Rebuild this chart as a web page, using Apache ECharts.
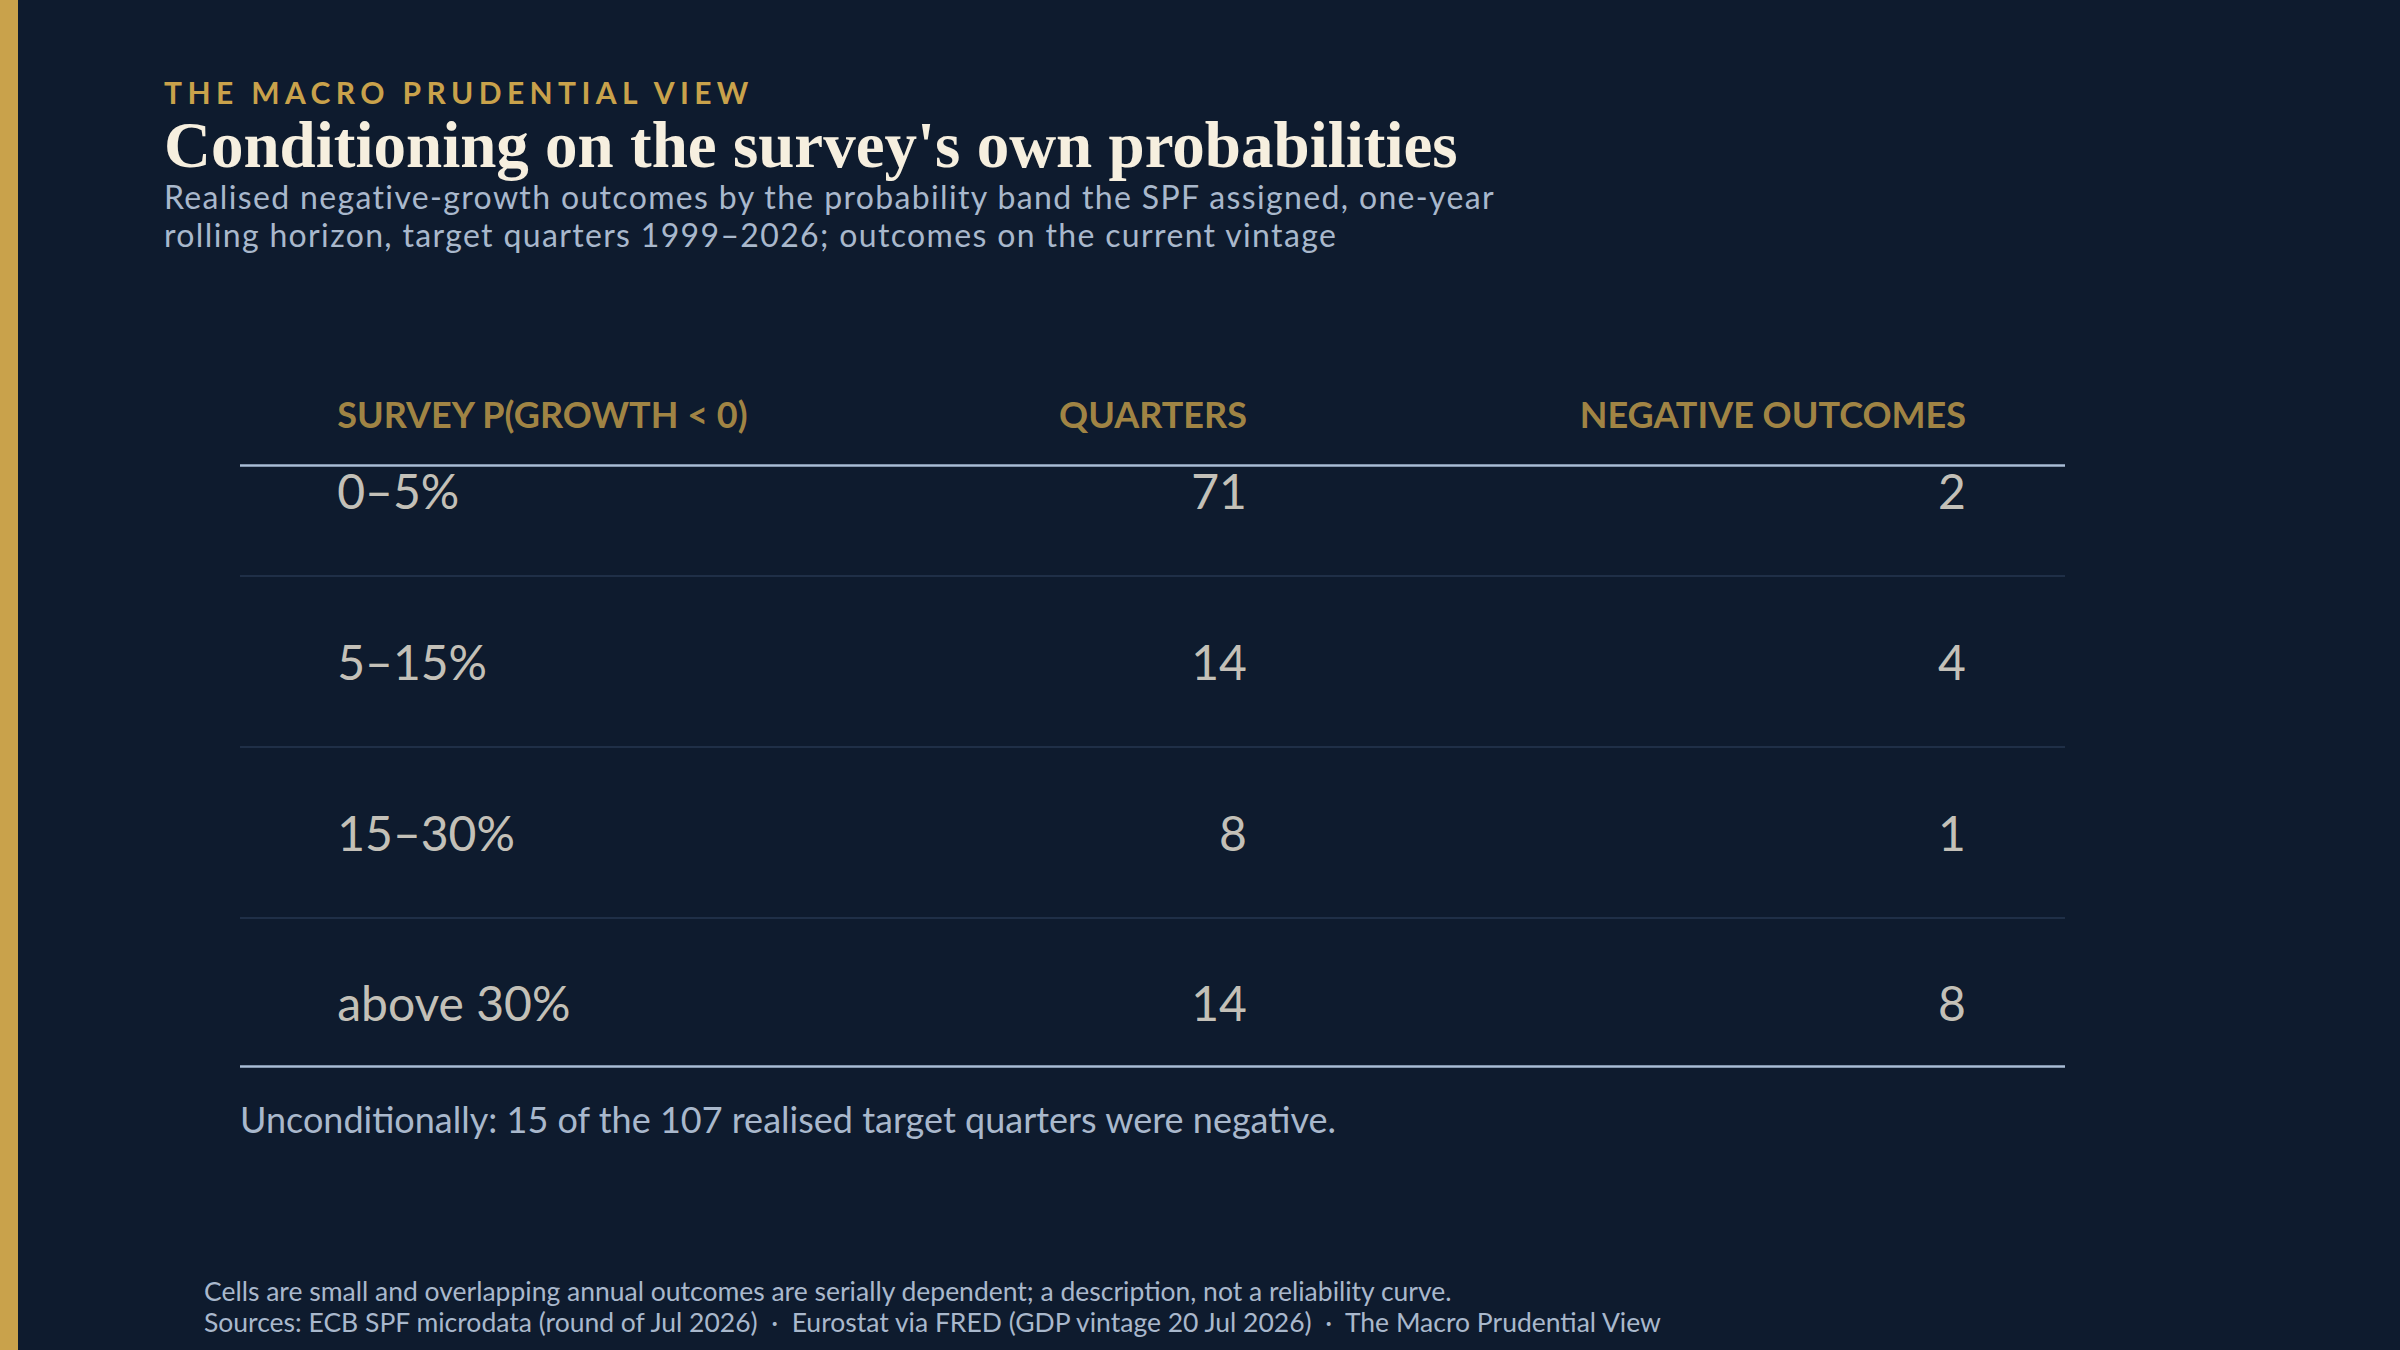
<!doctype html>
<html>
<head>
<meta charset="UTF-8">
<title>Conditioning on the survey's own probabilities</title>
<style>
  html, body { margin: 0; padding: 0; background: #0e1b2e; }
  #main { width: 2400px; height: 1350px; }
</style>
</head>
<body>
<div id="main"></div>
<script src="https://cdn.jsdelivr.net/npm/echarts@6/dist/echarts.min.js"></script>
<script>
// table contents
var headers = ['SURVEY P(GROWTH < 0)', 'QUARTERS', 'NEGATIVE OUTCOMES'];
var bands = ['0–5%', '5–15%', '15–30%', 'above 30%'];
var quarters = [71, 14, 8, 14];
var negatives = [2, 4, 1, 8];

var GOLD = '#c9a24b';
var CREAM = '#f6efdf';
var MUTED = '#a9b8cc';
var KICKER = 'THE MACRO PRUDENTIAL VIEW';
var SUB1 = 'Realised negative-growth outcomes by the probability band the SPF assigned, one-year';
var SUB2 = 'rolling horizon, target quarters 1999–2026; outcomes on the current vintage';

// column anchors on the x axis (0..100 across the table width)
var colX = [5.3, 55.2, 94.6];
var headerRow = -0.45;

function cells(col, values) {
    var out = [];
    for (var i = 0; i < values.length; i++) {
        out.push([colX[col], i, values[i]]);
    }
    return out;
}

function textSeries(name, data, align, style, extra) {
    var s = {
        name: name,
        type: 'scatter',
        symbolSize: 1,
        clip: false,
        silent: true,
        itemStyle: { color: 'rgba(0,0,0,0)' },
        label: Object.assign({
            show: true,
            position: align == 'left' ? 'right' : 'left',
            distance: 0,
            formatter: function (p) { return p.value[2]; }
        }, style),
        data: data
    };
    return Object.assign(s, extra || {});
}

var rowStyle = { color: CREAM, fontFamily: 'Lato', fontSize: 48 };
var headStyle = { color: GOLD, fontFamily: 'Lato', fontWeight: 'bold', fontSize: 36 };

var headData = [];
for (var h = 0; h < headers.length; h++) {
    headData.push({ value: [colX[h], headerRow, headers[h]],
        label: { position: h == 0 ? 'right' : 'left' } });
}

var myChart = echarts.init(document.getElementById('main'), null, { renderer: 'svg' });

var option = {
    backgroundColor: '#0e1b2e',
    animation: false,
    graphic: [
        { type: 'rect', left: 0, top: 0, shape: { width: 18, height: 1350 }, style: { fill: GOLD } }
    ],
    title: [
        {
            text: KICKER,
            left: 164, top: 77, padding: 0,
            textStyle: { color: GOLD, fontFamily: 'Lato', fontWeight: 'bold', fontSize: 30 }
        },
        {
            text: "Conditioning on the survey's own probabilities",
            left: 164, top: 112, padding: 0,
            textStyle: { color: CREAM, fontFamily: 'Liberation Serif', fontWeight: 'bold', fontSize: 65 }
        },
        {
            text: SUB1 + '\n' + SUB2,
            left: 164, top: 177, padding: 0,
            textStyle: { color: MUTED, fontFamily: 'Lato', fontWeight: 'normal', fontSize: 32, lineHeight: 38.5 }
        },
        {
            text: 'Unconditionally: 15 of the 107 realised target quarters were negative.',
            left: 240, top: 1101, padding: 0,
            textStyle: { color: MUTED, fontFamily: 'Lato', fontWeight: 'normal', fontSize: 36 }
        },
        {
            text: 'Cells are small and overlapping annual outcomes are serially dependent; a description, not a reliability curve.\nSources: ECB SPF microdata (round of Jul 2026)  ·  Eurostat via FRED (GDP vintage 20 Jul 2026)  ·  The Macro Prudential View',
            left: 204, top: 1275, padding: 0,
            textStyle: { color: MUTED, fontFamily: 'Lato', fontWeight: 'normal', fontSize: 26.5, lineHeight: 31 }
        }
    ],
    grid: { left: 240, right: 335, top: 380, bottom: 284 },
    xAxis: { type: 'value', min: 0, max: 100, show: false },
    yAxis: { type: 'value', min: -0.65, max: 3.37, inverse: true, show: false },
    series: [
        textSeries('header', headData, 'left', headStyle),
        textSeries('band', cells(0, bands), 'left', rowStyle, {
            markLine: {
                silent: true,
                symbol: 'none',
                label: { show: false },
                lineStyle: { color: '#1f2f47', width: 2, type: 'solid' },
                data: [
                    { yAxis: 0.5 }, { yAxis: 1.5 }, { yAxis: 2.5 },
                    { yAxis: -0.15, lineStyle: { color: '#a9bdd6', width: 2.5 } },
                    { yAxis: 3.37, lineStyle: { color: '#a9bdd6', width: 2.5 } }
                ]
            }
        }),
        textSeries('quarters', cells(1, quarters), 'right', rowStyle),
        textSeries('negatives', cells(2, negatives), 'right', rowStyle)
    ]
};

myChart.setOption(option);

// spaced-out kicker and slightly open subtitle, as in the masthead
var texts = document.querySelectorAll('#main svg text');
for (var t = 0; t < texts.length; t++) {
    var s = texts[t].textContent;
    if (s == KICKER) {
        texts[t].style.letterSpacing = '5.4px';
    } else if (s == SUB1 || s == SUB2) {
        texts[t].style.letterSpacing = '1.35px';
    }
}
</script>
</body>
</html>
